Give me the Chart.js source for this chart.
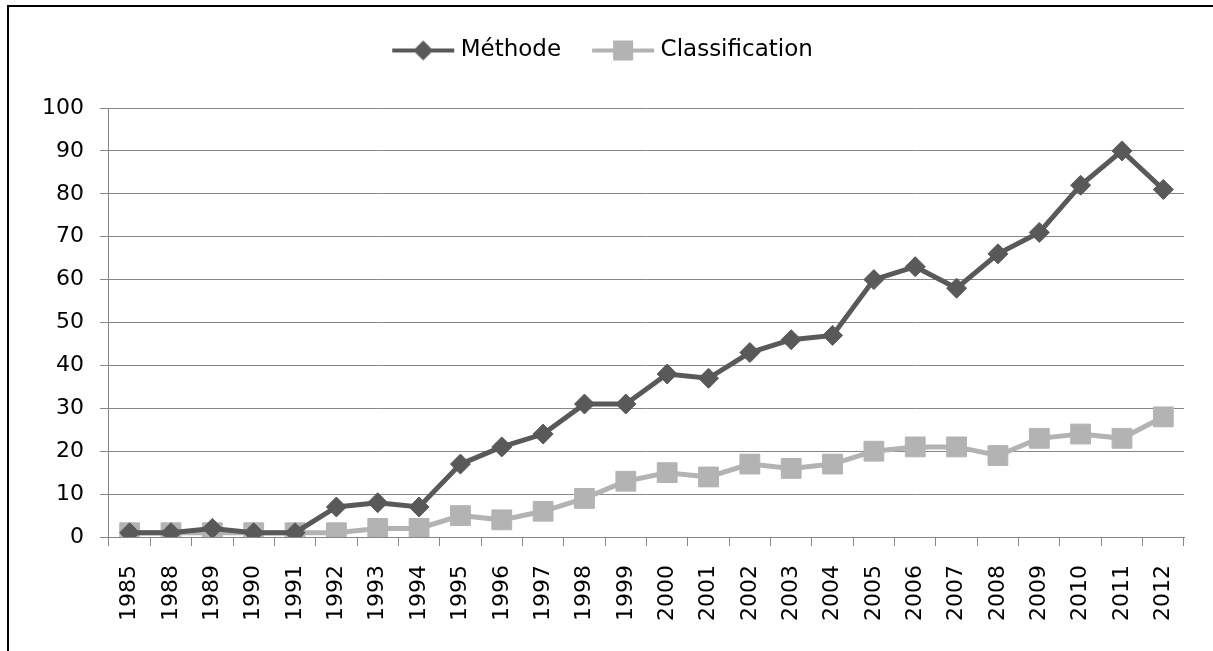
<!DOCTYPE html>
<html lang="fr">
<head>
  <meta charset="UTF-8">
  <title>Méthode / Classification</title>
  <script src="https://cdn.jsdelivr.net/npm/chart.js"></script>
  <style>
    html, body {
      margin: 0;
      padding: 0;
      background: #fff;
    }
    #wrap {
      position: relative;
      width: 1213px;
      height: 651px;
    }
    #frame {
      position: absolute;
      left: 7px;
      top: 5px;
      right: 0;
      bottom: 0;
      border-left: 2px solid #000;
      border-top: 2px solid #000;
      pointer-events: none;
    }
  </style>
</head>
<body>
  <div id="wrap">
    <canvas id="chart" width="1213" height="651"></canvas>
    <div id="frame"></div>
  </div>

  <script>
    // data
    const years = ['1985', '1988', '1989', '1990', '1991', '1992', '1993', '1994', '1995', '1996',
      '1997', '1998', '1999', '2000', '2001', '2002', '2003', '2004', '2005', '2006',
      '2007', '2008', '2009', '2010', '2011', '2012'];
    const methode = [1, 1, 2, 1, 1, 7, 8, 7, 17, 21, 24, 31, 31, 38, 37, 43, 46, 47, 60, 63, 58, 66, 71, 82, 90, 81];
    const classification = [1, 1, 1, 1, 1, 1, 2, 2, 5, 4, 6, 9, 13, 15, 14, 17, 16, 17, 20, 21, 21, 19, 23, 24, 23, 28];
    const yTicks = [0, 10, 20, 30, 40, 50, 60, 70, 80, 90, 100];

    const darkGrey = '#595959';
    const lightGrey = '#b3b3b3';
    const font = { family: 'DejaVu Sans', size: 22 };

    // small line + marker picture for the legend
    function legendIcon(color, shape) {
      const c = document.createElement('canvas');
      c.width = 66;
      c.height = 24;
      const g = c.getContext('2d');
      g.strokeStyle = color;
      g.lineWidth = 4;
      g.beginPath();
      g.moveTo(2, 12);
      g.lineTo(64, 12);
      g.stroke();
      g.fillStyle = color;
      g.beginPath();
      if (shape === 'diamond') {
        g.moveTo(33, 2);
        g.lineTo(43, 12);
        g.lineTo(33, 22);
        g.lineTo(23, 12);
        g.closePath();
      } else {
        g.rect(23, 2, 20, 20);
      }
      g.fill();
      return c;
    }
    const icons = [legendIcon(darkGrey, 'diamond'), legendIcon(lightGrey, 'square')];

    // extra room below the legend
    const legendGap = {
      id: 'legendGap',
      beforeInit(chart) {
        const fit = chart.legend.fit;
        chart.legend.fit = function () {
          fit.bind(chart.legend)();
          this.height += 36;
        };
      }
    };

    const ctx = document.getElementById('chart').getContext('2d');
    new Chart(ctx, {
      type: 'line',
      data: {
        labels: years,
        datasets: [
          {
            label: 'Méthode',
            data: methode,
            borderColor: darkGrey,
            backgroundColor: darkGrey,
            borderWidth: 5,
            pointStyle: 'rectRot',
            pointRadius: 10,
            pointBorderWidth: 1,
            tension: 0
          },
          {
            label: 'Classification',
            data: classification,
            borderColor: lightGrey,
            backgroundColor: lightGrey,
            borderWidth: 5,
            pointStyle: 'rect',
            pointRadius: 14,
            pointBorderWidth: 1,
            tension: 0
          }
        ]
      },
      options: {
        responsive: false,
        animation: false,
        layout: {
          padding: { top: 3, left: 26, right: 29, bottom: 11 }
        },
        plugins: {
          legend: {
            position: 'top',
            labels: {
              usePointStyle: true,
              pointStyleWidth: 52,
              padding: 36,
              color: '#000',
              font: { family: 'DejaVu Sans', size: 23 },
              generateLabels(chart) {
                const items = Chart.defaults.plugins.legend.labels.generateLabels(chart);
                items.forEach((it, i) => { it.pointStyle = icons[i]; });
                return items;
              }
            }
          },
          tooltip: { enabled: false }
        },
        scales: {
          x: {
            offset: true,
            grid: {
              offset: true,
              drawOnChartArea: false,
              drawTicks: true,
              tickLength: 9,
              color: '#868686'
            },
            border: { color: '#868686', width: 1 },
            ticks: {
              minRotation: 90,
              maxRotation: 90,
              autoSkip: false,
              padding: 19,
              color: '#000',
              font: font
            }
          },
          y: {
            min: 0,
            max: 100,
            afterBuildTicks(scale) {
              scale.ticks = yTicks.map(v => ({ value: v }));
            },
            grid: {
              color: '#868686',
              lineWidth: 1,
              tickLength: 9
            },
            border: { color: '#868686', width: 1 },
            ticks: {
              padding: 16,
              color: '#000',
              font: font
            }
          }
        }
      },
      plugins: [legendGap]
    });
  </script>
</body>
</html>
